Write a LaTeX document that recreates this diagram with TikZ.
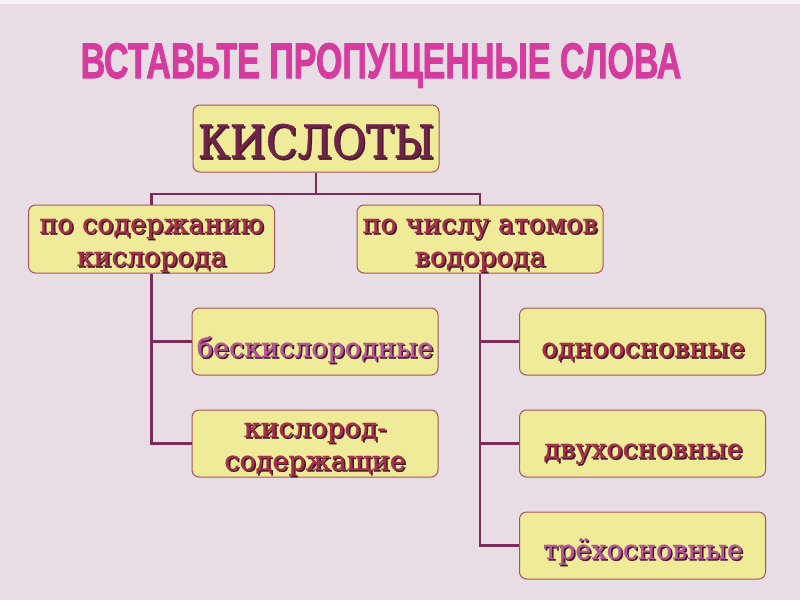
\documentclass[tikz,border=0pt]{standalone}
\usepackage{fontspec}
\usepackage{graphicx}
\setmainfont{DejaVu Serif}
\newfontfamily\boxfont{DejaVu Serif}[BoldFont={DejaVu Serif},BoldFeatures={FakeBold=0.8}]
\newfontfamily\titlefont{Liberation Sans}[BoldFeatures={FakeBold=2}]
\definecolor{bgcol}{HTML}{E9DDE5}
\definecolor{titlecol}{HTML}{D63C9E}
\definecolor{boxfill}{HTML}{EFEB98}
\definecolor{boxline}{HTML}{A4545E}
\definecolor{conncol}{HTML}{7D2B5A}
\definecolor{redtxt}{HTML}{A3304A}
\definecolor{pinktxt}{HTML}{B5559A}
\definecolor{darktxt}{HTML}{6E2448}
\definecolor{txtshadow}{HTML}{4A1A2C}
\newcommand\shd[2]{\rlap{\hspace{1.6pt}\raisebox{-1.6pt}{\color{txtshadow}#2}}{\color{#1}#2}}
\newcommand\heavy[1]{\special{pdf:code q 2 Tr 1.6 w}#1\special{pdf:code Q}}
\tikzset{
  box/.style={draw=boxline, line width=1pt, fill=boxfill, rounded corners=7pt,
    minimum width=246pt, minimum height=67pt, inner sep=0pt},
  lbl/.style={anchor=base, inner sep=0pt, align=center,
    font=\boxfont\bfseries\fontsize{27}{33}\selectfont},
  conn/.style={draw=conncol, line width=2.4pt}
}
\begin{document}
\begin{tikzpicture}[x=1pt,y=-1pt]
\useasboundingbox (0,0) rectangle (800,600);
\fill[bgcol] (0,0) rectangle (800,600);
\fill[white!60!bgcol] (0,0) rectangle (800,4);
\node[anchor=base, text=titlecol, font=\titlefont\bfseries\fontsize{50}{52}\selectfont, inner sep=0pt] (title) at (381,78)
  {\scalebox{0.68}[1]{\heavy{ВСТАВЬТЕ ПРОПУЩЕННЫЕ СЛОВА}}};
% boxes
\node[box] (top) at (316,138.5) {};
\node[box, minimum height=68pt] (L1) at (151.5,239) {};
\node[box, minimum height=68pt] (R1) at (480,239) {};
\node[box] (L2a) at (315,341.5) {};
\node[box] (L2b) at (315,443.5) {};
\node[box] (R2a) at (642.5,341.5) {};
\node[box] (R2b) at (642.5,443.5) {};
\node[box] (R2c) at (642.5,545.5) {};
% labels
\node[lbl, font=\boxfont\bfseries\fontsize{46}{50}\selectfont] (topt) at (316,158) {\scalebox{0.9}[1]{\shd{darktxt}{КИСЛОТЫ}}};
\node[lbl] (L1t) at (151.5,266) {\shd{redtxt}{по содержанию}\\\shd{redtxt}{кислорода}};
\node[lbl] (R1t) at (480,266) {\shd{redtxt}{по числу атомов}\\\shd{redtxt}{водорода}};
\node[lbl] (L2at) at (315,357) {\shd{pinktxt}{бескислородные}};
\node[lbl] (L2bt) at (315,470) {\shd{redtxt}{кислород-}\\\shd{redtxt}{содержащие}};
\node[lbl] (R2at) at (643,357) {\shd{redtxt}{одноосновные}};
\node[lbl] (R2bt) at (643,458) {\shd{redtxt}{двухосновные}};
\node[lbl] (R2ct) at (643,559) {\shd{pinktxt}{трёхосновные}};
% connectors
\coordinate (bus) at (316,194);
\draw[conn] (top.south) -- (bus);
\draw[conn] (bus) -| (L1.north);
\draw[conn] (bus) -| (R1.north);
\draw[conn] (L1.south) |- (L2b.west);
\draw[conn] (L1.south |- L2a.west) -- (L2a.west);
\draw[conn] (R1.south) |- (R2c.west);
\draw[conn] (R1.south |- R2a.west) -- (R2a.west);
\draw[conn] (R1.south |- R2b.west) -- (R2b.west);
\end{tikzpicture}
\end{document}
